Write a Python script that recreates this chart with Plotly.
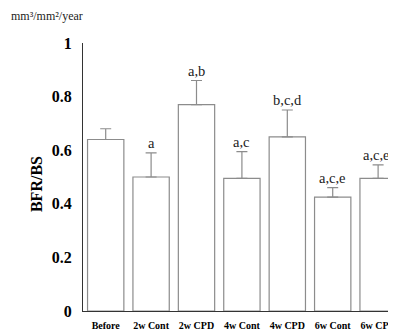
import plotly.graph_objects as go

categories = ["Before", "2w Cont", "2w CPD", "4w Cont", "4w CPD", "6w Cont", "6w CPD"]
bfr_bs = [0.64, 0.50, 0.77, 0.495, 0.65, 0.425, 0.495]
sem = [0.04, 0.09, 0.09, 0.10, 0.10, 0.035, 0.05]
sig_labels = ["", "a", "a,b", "a,c", "b,c,d", "a,c,e", "a,c,e"]
y_ticks = [0, 0.2, 0.4, 0.6, 0.8, 1]
y_ticktext = ["0", "0.2", "0.4", "0.6", "0.8", "1"]

serif = "Liberation Serif, Times New Roman, serif"

fig = go.Figure()
fig.add_trace(go.Bar(
    x=list(range(len(categories))), y=bfr_bs, width=0.8,
    marker=dict(color="white", line=dict(color="#8c8c8c", width=1.2)),
    error_y=dict(type="data", array=sem, symmetric=False, arrayminus=[0]*len(sem),
                 color="#8c8c8c", thickness=1.2, width=5.5),
    showlegend=False,
))

for i, (v, e, lab) in enumerate(zip(bfr_bs, sem, sig_labels)):
    if lab:
        fig.add_annotation(x=i, y=v + e, text=lab, showarrow=False, yanchor="bottom",
                           yshift=0, xshift=(-2 if i == len(categories) - 1 else 0),
                           font=dict(family=serif, size=14.5, color="#222"))

fig.add_annotation(xref="paper", yref="paper", x=-0.2364, y=1.1, xanchor="left", yanchor="middle",
                   text="mm³/mm²/year", showarrow=False,
                   font=dict(family=serif, size=12, color="#222"))

fig.add_annotation(xref="paper", yref="paper", x=-0.15, y=0.475, xanchor="center", yanchor="middle",
                   text="BFR/BS", textangle=-90, showarrow=False,
                   font=dict(family=serif, size=16, color="black", weight="bold"))

fig.update_layout(
    width=388, height=323,
    margin=dict(l=75, r=0, t=35, b=18),
    plot_bgcolor="white", paper_bgcolor="white",
    bargap=0.2,
)
fig.update_xaxes(
    range=[-0.5, 6.35], tickvals=list(range(len(categories))), ticktext=categories,
    showline=True, linecolor="#333", linewidth=1, showgrid=False, zeroline=False,
    ticks="", tickfont=dict(family=serif, size=10, color="black", weight="bold"),
    ticklabelstandoff=5, ticklabeloverflow="allow",
)
fig.update_yaxes(
    range=[0, 1], tickvals=y_ticks, ticktext=y_ticktext,
    showline=True, linecolor="#333", linewidth=1, showgrid=False, zeroline=False,
    ticks="", tickfont=dict(family=serif, size=16, color="black", weight="bold"),
    ticklabelstandoff=7,
)

fig.write_html("out.html")
